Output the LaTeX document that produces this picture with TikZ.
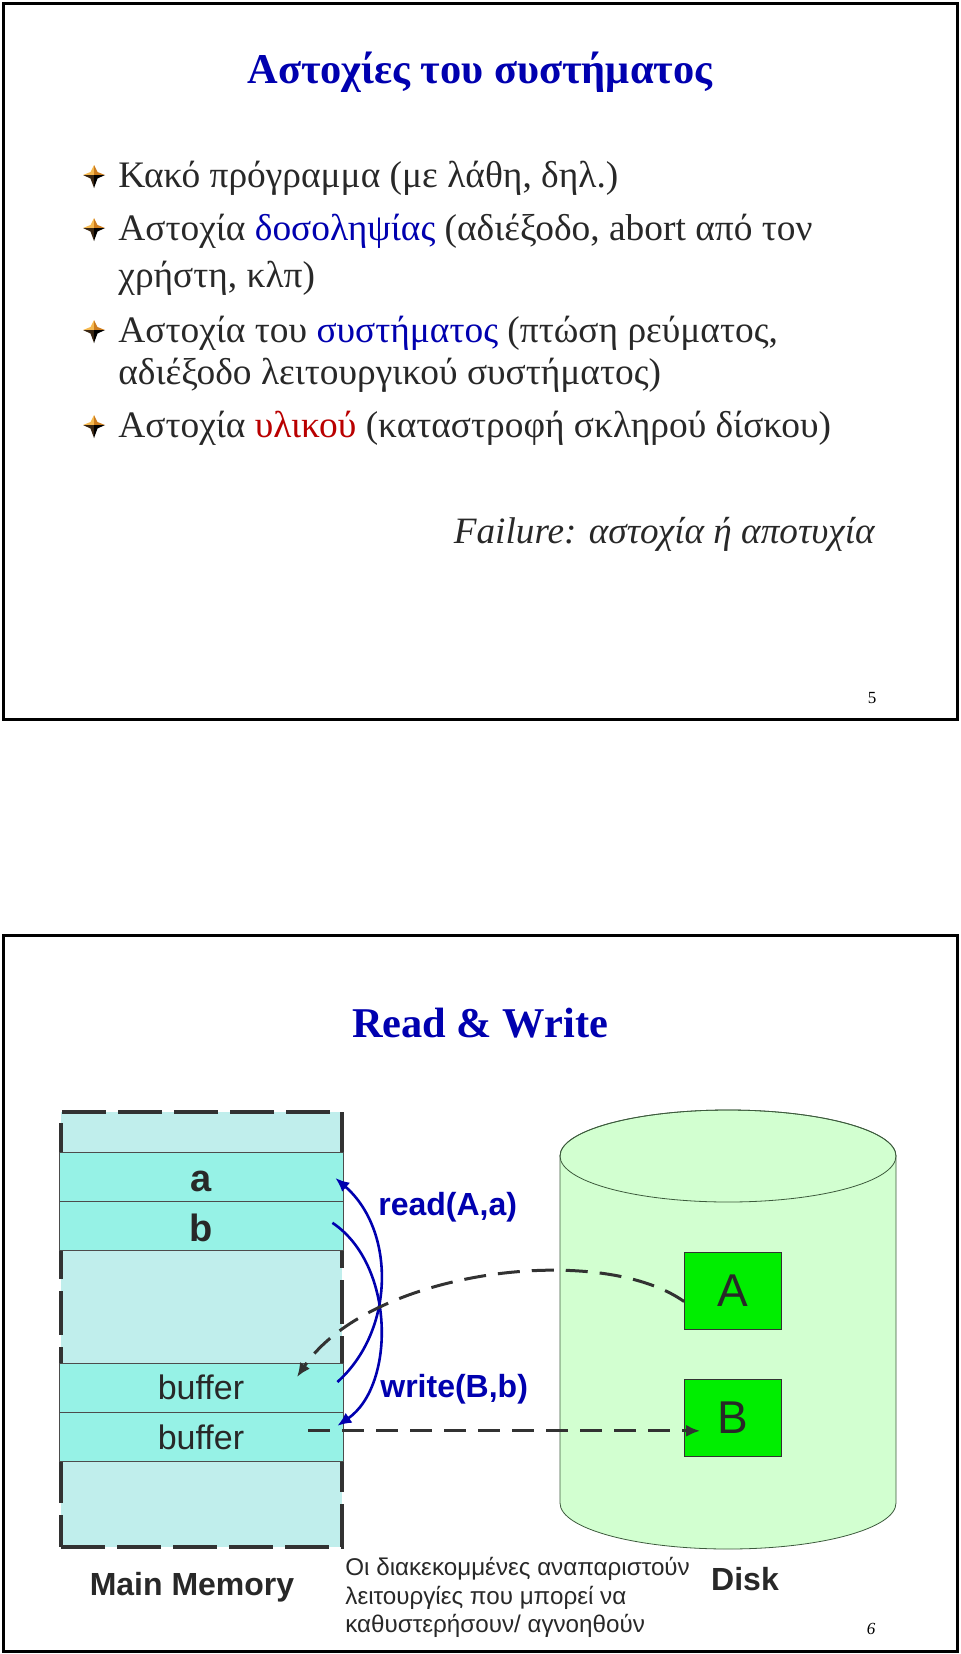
\documentclass[tikz,border=0pt]{standalone}
\usepackage{fontspec}
\setmainfont{Liberation Serif}
\setsansfont{Liberation Sans}
\usepackage{tikz}
\usetikzlibrary{arrows.meta,shapes,positioning,calc}
\definecolor{ttlblue}{RGB}{0,0,175}
\definecolor{txtgray}{RGB}{40,40,40}
\definecolor{wrdred}{RGB}{185,0,0}
\definecolor{memcyan}{RGB}{192,238,236}
\definecolor{cellcyan}{RGB}{150,242,230}
\definecolor{diskgreen}{RGB}{210,255,208}
\definecolor{diskline}{RGB}{60,90,60}
\definecolor{blkgreen}{RGB}{0,238,0}
\definecolor{dashgray}{RGB}{50,50,50}
\definecolor{bulgold}{RGB}{245,185,80}
\definecolor{bulbrown}{RGB}{205,125,30}

\begin{document}
\begin{tikzpicture}[x=0.5pt,y=-0.5pt,>={Latex[length=7pt,width=6pt]},
  every node/.style={inner sep=0pt},
  slidetitle/.style={font=\fontsize{21.2}{25}\selectfont\bfseries,text=ttlblue,anchor=base},
  item/.style={font=\fontsize{18.7}{22}\selectfont,text=txtgray,anchor=base west},
  cell/.style={draw=black!70,thin,fill=cellcyan,minimum width=142pt,minimum height=24.5pt,
    font=\sffamily\fontsize{17}{20}\selectfont,text=txtgray},
  blk/.style={draw=black!80,fill=blkgreen,minimum width=48.5pt,minimum height=38.5pt,
    font=\sffamily\fontsize{23}{27}\selectfont,text=txtgray},
  lbl/.style={font=\sffamily\bfseries\fontsize{16}{19}\selectfont,text=ttlblue,anchor=base west},
  partname/.style={font=\sffamily\bfseries\fontsize{16}{19}\selectfont,text=txtgray,anchor=base},
  busarc/.style={->,draw=ttlblue,line width=1.3pt},
  lazy/.style={->,draw=dashgray,line width=1.5pt,dash pattern=on 11pt off 6pt},
  pageno/.style={font=\fontsize{8.5}{10}\selectfont,anchor=base},
  arrowbul/.pic={
    \fill[bulgold] (-11,0) -- (-3.5,-3) -- (0,-10) -- (0,0) -- cycle;
    \fill[bulbrown] (0,-10) -- (3.5,-3) -- (11,0) -- (0,0) -- cycle;
    \fill[black!70!brown] (-11,0) -- (-3.5,3.5) -- (0,13) -- (0,0) -- cycle;
    \fill[black] (0,13) -- (3.5,3.5) -- (11,0) -- (0,0) -- cycle;}]
\useasboundingbox (0,0) rectangle (960,1654);

% slide 5
\draw[line width=1.5pt] (3,3) rectangle (957,719);
\node[slidetitle] (t1) at (480,83) {Αστοχίες του συστήματος};
\foreach \y in {175,228,330,425} \pic at (94,\y) {arrowbul};
\node[item] (i1) at (118,187) {Κακό πρόγραμμα (με λάθη, δηλ.)};
\node[item] (i2) at (118,240) {Αστοχία \textcolor{ttlblue}{δοσοληψίας} (αδιέξοδο, abort από τον};
\node[item] (i2b) at (118,287) {χρήστη, κλπ)};
\node[item] (i3) at (118,342) {Αστοχία του \textcolor{ttlblue}{συστήματος} (πτώση ρεύματος,};
\node[item] (i3b) at (118,384) {αδιέξοδο λειτουργικού συστήματος)};
\node[item] (i4) at (118,437) {Αστοχία \textcolor{wrdred}{υλικού} (καταστροφή σκληρού δίσκου)};
\node[item,anchor=base east,font=\fontsize{18.6}{22}\selectfont\itshape] (fail) at (875,543) {Failure: αστοχία ή αποτυχία};
\node[pageno] (p5) at (872,703) {5};

% slide 6
\draw[line width=1.5pt] (3,935) rectangle (957,1651);
\node[slidetitle] (t2) at (480,1037) {Read \& Write};

% main memory
\node[draw=dashgray,line width=2pt,dash pattern=on 22pt off 6pt,fill=memcyan,
  minimum width=140.5pt,minimum height=217.5pt] (mem) at (201.5,1329.5) {};
\node[cell,font=\sffamily\bfseries\fontsize{19}{22}\selectfont,text height=15pt,text depth=0pt] (a) at (201,1176.5) {a};
\node[cell,font=\sffamily\bfseries\fontsize{19}{22}\selectfont,text height=15pt,text depth=0pt,below=0pt of a] (b) {b};
\node[cell] (buf1) at (201,1387.5) {buffer};
\node[cell,below=0pt of buf1] (buf2) {buffer};

% disk
\filldraw[draw=diskline,fill=diskgreen,thin] (560,1156) -- (560,1503)
  arc[start angle=180,end angle=0,x radius=168,y radius=46] -- (896,1156)
  arc[start angle=0,end angle=-180,x radius=168,y radius=46] -- cycle;
\draw[diskline,thin] (728,1156) ellipse[x radius=168,y radius=46];
\node[blk] (A) at (733,1290.5) {A};
\node[blk] (B) at (733,1417.5) {B};

% read / write
\draw[busarc] ([xshift=-3pt,yshift=2.75pt]buf1.east) .. controls +(58,-52) and +(60,52) .. ([xshift=-4pt,yshift=-0.75pt]a.east);
\draw[busarc] ([xshift=-5.5pt,yshift=1.75pt]b.east) .. controls +(63,42) and +(58,-40) .. ([xshift=-3pt,yshift=5.75pt]buf2.east);
\node[lbl] (rd) at (378,1215) {read(A,a)};
\node[lbl] (wr) at (380,1397) {write(B,b)};

\draw[lazy] ([yshift=-5.5pt]A.west) .. controls +(-85,-60) and +(73,-107) .. ([xshift=48pt,yshift=5.25pt]buf1.center);
\coordinate (wstart) at ([xshift=53.5pt,yshift=3.25pt]buf2.center);
\draw[lazy] (wstart) -- ($(B.west |- wstart)+(16,0)$);

\node[partname] (mm) at (192,1595) {Main Memory};
\node[partname] (dk) at (745,1590) {Disk};
\node[anchor=north west,align=left,font=\sffamily\fontsize{12.1}{14.2}\selectfont,text=txtgray] (note) at (345,1557)
  {Οι διακεκομμένες αναπαριστούν\\λειτουργίες που μπορεί να\\καθυστερήσουν/ αγνοηθούν};
\node[pageno,font=\fontsize{8.5}{10}\selectfont\itshape] (p6) at (871,1634) {6};
\end{tikzpicture}
\end{document}
